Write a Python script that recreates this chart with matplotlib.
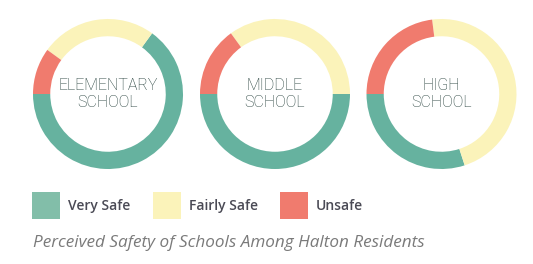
import matplotlib.pyplot as plt
from matplotlib.patches import Patch

# Perceived safety shares (%)
schools = ['ELEMENTARY\nSCHOOL', 'MIDDLE\nSCHOOL', 'HIGH\nSCHOOL']
very_safe = [65, 50, 30]
fairly_safe = [25, 35, 47]
unsafe = [10, 15, 23]

categories = ['Very Safe', 'Fairly Safe', 'Unsafe']
colors = ['#66b29f', '#fbf3ba', '#f07b6e']
legend_colors = ['#82bea9', '#fbf3ba', '#f07b6e']

fig = plt.figure(figsize=(5.33, 2.64), dpi=100)
fig.patch.set_facecolor('white')

centers_x = [108, 275, 441.5]
center_y = 94
radius_px = 75

for i, name in enumerate(schools):
    left = (centers_x[i] - radius_px) / 533
    bottom = (264 - center_y - radius_px) / 264
    ax = fig.add_axes([left, bottom, 2 * radius_px / 533, 2 * radius_px / 264])
    vals = [very_safe[i], fairly_safe[i], unsafe[i]]
    ax.pie(vals, colors=colors, startangle=180, counterclock=True,
           wedgeprops=dict(width=0.23, edgecolor='none'), radius=1)
    ax.set_xlim(-1, 1)
    ax.set_ylim(-1, 1)
    ax.set_aspect('equal')
    ax.axis('off')
    ax.text(0, 0.0, name, ha='center', va='center', fontsize=11.5,
            family='Roboto', fontweight='light', color='#1c3833',
            linespacing=1.1)

handles = [Patch(facecolor=c, edgecolor='none') for c in legend_colors]
fig.legend(handles, categories, loc='center left', bbox_to_anchor=(0.05, 0.22),
           ncol=3, frameon=False, handlelength=2.0, handleheight=2.6,
           handletextpad=0.6, columnspacing=1.6, borderaxespad=0,
           prop=dict(family='Open Sans', size=10, weight='semibold'),
           labelcolor='#4a4a55')

fig.text(33 / 533, 1 - 243 / 264, 'Perceived Safety of Schools Among Halton Residents',
         ha='left', va='center', fontsize=12.3, family='Open Sans', style='italic',
         color='#7a7a7a')

fig.savefig('out.png', dpi=100, facecolor='white')
